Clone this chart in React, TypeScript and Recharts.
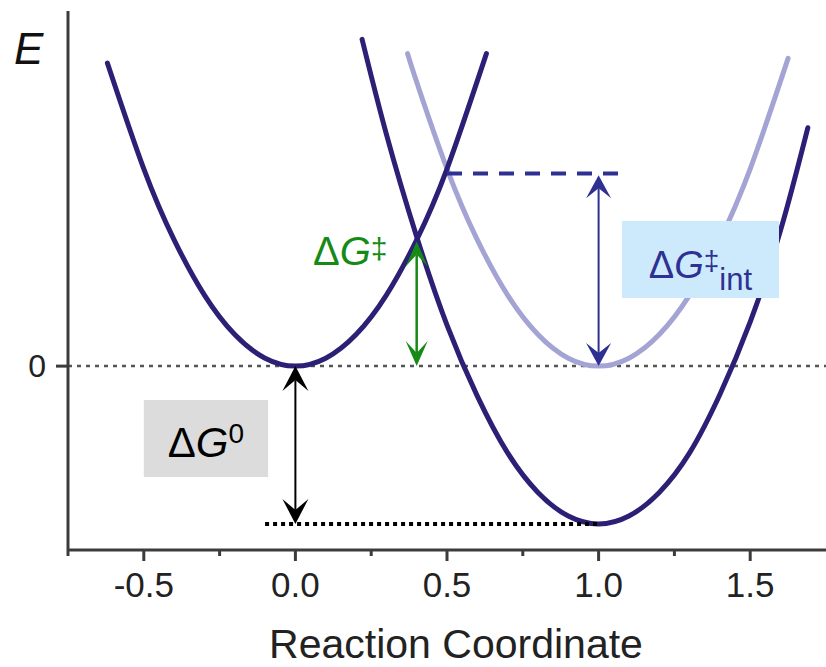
import React from "react";
import { ComposedChart, Line, XAxis, YAxis, ReferenceLine, ReferenceArea } from "recharts";

const FONT = '"Liberation Sans", Arial, sans-serif';
const AXIS = "#3c3c3c";
const DARK = "#2b2075";
const LIGHT = "#a4a4d4";
const BLUE = "#2e3192";
const GREEN = "#168a16";

// axis ticks
const xTicks = [-0.5, 0, 0.5, 1, 1.5];
const minorTicks = [-0.75, -0.25, 0.25, 0.75, 1.25];
const yTicks = [0];

// reactant curve (left, dark)
const reactantX = [-0.62, -0.5, -0.4, -0.3, -0.2, -0.1, 0, 0.1, 0.2, 0.3, 0.4, 0.5, 0.63];
const reactantE = [1.92, 1.25, 0.8, 0.45, 0.2, 0.05, 0, 0.05, 0.2, 0.45, 0.8, 1.25, 1.98];

// product curve (right, dark)
const productX = [0.22, 0.3, 0.4, 0.5, 0.6, 0.7, 0.8, 0.9, 1.0, 1.1, 1.2, 1.3, 1.4, 1.5, 1.6, 1.69];
const productE = [2.07, 1.47, 0.82, 0.26, -0.19, -0.55, -0.8, -0.95, -1, -0.95, -0.8, -0.55, -0.18, 0.28, 0.86, 1.51];

// intrinsic curve (product shifted up to 0, light)
const intrinsicX = [0.37, 0.4, 0.5, 0.6, 0.7, 0.8, 0.9, 1.0, 1.1, 1.2, 1.3, 1.4, 1.5, 1.625];
const intrinsicE = [1.98, 1.8, 1.25, 0.8, 0.45, 0.2, 0.05, 0, 0.05, 0.2, 0.45, 0.8, 1.25, 1.95];

// annotation values
const dG0 = -1;
const actX = 0.4;
const dGact = 0.79;
const crossX = 0.5;
const dGint = 1.22;
const intDashEnd = 1.1;
const baseDotStart = -0.1;

const rows = (xs: number[], es: number[]) => xs.map((x, i) => ({ x, e: es[i] }));

function arrow(color: string, width: number, len: number, hw: number, notch: number) {
  return (p: any) => {
    const x = p.x1;
    const top = Math.min(p.y1, p.y2);
    const bot = Math.max(p.y1, p.y2);
    return (
      <g>
        <line x1={x} x2={x} y1={top + notch} y2={bot - notch} stroke={color} strokeWidth={width} />
        <polygon
          points={`${x},${top} ${x + hw},${top + len} ${x},${top + notch} ${x - hw},${top + len}`}
          fill={color}
        />
        <polygon
          points={`${x},${bot} ${x + hw},${bot - len} ${x},${bot - notch} ${x - hw},${bot - len}`}
          fill={color}
        />
      </g>
    );
  };
}

function XTick(props: any) {
  const { x, y, payload } = props;
  const major = xTicks.includes(payload.value);
  return (
    <g>
      <line x1={x} x2={x} y1={y} y2={y + (major ? 11 : 6)} stroke={AXIS} strokeWidth={3} />
      {major && (
        <text x={x} y={y + 47} textAnchor="middle" fontSize={35} fill="#222" fontFamily={FONT}>
          {payload.value.toFixed(1)}
        </text>
      )}
    </g>
  );
}

export default function App() {
  return (
    <div style={{ position: "absolute", left: 0, top: 0, background: "#fff" }}>
      <ComposedChart width={826} height={667} margin={{ top: 11, right: 0, bottom: 0, left: 0 }}>
        <XAxis
          dataKey="x"
          type="number"
          domain={[-0.75, 1.75]}
          allowDataOverflow
          ticks={[...minorTicks, ...xTicks].sort((a, b) => a - b)}
          interval={0}
          height={117}
          axisLine={{ stroke: AXIS, strokeWidth: 3 }}
          tickLine={false}
          tickSize={0}
          tickMargin={0}
          tick={<XTick />}
          label={(p: any) => (
            <text
              x={p.viewBox.x + p.viewBox.width / 2 + 9}
              y={p.viewBox.y + 108}
              textAnchor="middle"
              fontSize={41}
              fill="#222"
              fontFamily={FONT}
            >
              Reaction Coordinate
            </text>
          )}
        />
        <YAxis
          type="number"
          domain={[-1.165, 2.25]}
          allowDataOverflow
          ticks={yTicks}
          width={68}
          axisLine={{ stroke: AXIS, strokeWidth: 3 }}
          tickLine={{ stroke: AXIS, strokeWidth: 3 }}
          tickSize={12}
          tickMargin={10}
          tick={{ fontSize: 32, fill: "#222", fontFamily: FONT }}
          label={(p: any) => (
            <text x={14} y={p.viewBox.y + 53} fontSize={44} fontStyle="italic" fill="#111" fontFamily={FONT}>
              E
            </text>
          )}
        />

        <ReferenceLine y={0} stroke="#555" strokeWidth={2.5} strokeDasharray="4 5" />

        <Line
          data={rows(intrinsicX, intrinsicE)}
          dataKey="e"
          type="natural"
          dot={false}
          stroke={LIGHT}
          strokeWidth={5}
          strokeLinecap="round"
          isAnimationActive={false}
        />
        <Line
          data={rows(reactantX, reactantE)}
          dataKey="e"
          type="natural"
          dot={false}
          stroke={DARK}
          strokeWidth={5}
          strokeLinecap="round"
          isAnimationActive={false}
        />
        <Line
          data={rows(productX, productE)}
          dataKey="e"
          type="natural"
          dot={false}
          stroke={DARK}
          strokeWidth={5}
          strokeLinecap="round"
          isAnimationActive={false}
        />

        <ReferenceLine
          segment={[{ x: baseDotStart, y: dG0 }, { x: 1, y: dG0 }]}
          stroke="#000"
          strokeWidth={4}
          strokeDasharray="4 4"
        />
        <ReferenceLine
          segment={[{ x: crossX, y: dGint }, { x: intDashEnd, y: dGint }]}
          stroke={BLUE}
          strokeWidth={4}
          strokeDasharray="15 11"
        />

        <ReferenceLine
          segment={[{ x: 0, y: 0 }, { x: 0, y: dG0 }]}
          shape={arrow("#000", 2, 25, 13, 14)}
        />
        <ReferenceLine
          segment={[{ x: actX, y: 0 }, { x: actX, y: dGact }]}
          shape={arrow(GREEN, 2.5, 25, 11, 13)}
        />
        <ReferenceLine
          segment={[{ x: 1, y: 0 }, { x: 1, y: dGint - 0.01 }]}
          shape={arrow(BLUE, 2, 23, 12.5, 13)}
        />

        <ReferenceArea
          x1={-0.5}
          x2={-0.09}
          y1={-0.215}
          y2={-0.703}
          fill="#dcdcdc"
          fillOpacity={1}
          stroke="none"
          zIndex={700}
          label={(p: any) => (
            <text
              x={p.viewBox.x + p.viewBox.width / 2}
              y={p.viewBox.y + 57}
              textAnchor="middle"
              fontSize={42}
              fill="#000"
              fontFamily={FONT}
            >
              <tspan>Δ</tspan>
              <tspan fontStyle="italic">G</tspan>
              <tspan fontSize={28} dy={-14}>0</tspan>
            </text>
          )}
        />
        <ReferenceArea
          x1={1.077}
          x2={1.595}
          y1={0.919}
          y2={0.431}
          fill="#cdeafc"
          fillOpacity={1}
          stroke="none"
          zIndex={700}
          label={(p: any) => (
            <text
              x={p.viewBox.x + p.viewBox.width / 2}
              y={p.viewBox.y + 57}
              textAnchor="middle"
              fontSize={38}
              fill={BLUE}
              fontFamily={FONT}
            >
              <tspan>Δ</tspan>
              <tspan fontStyle="italic">G</tspan>
              <tspan fontSize={28} dy={-8}>‡</tspan>
              <tspan fontSize={31} dy={20}>int</tspan>
            </text>
          )}
        />
        <ReferenceArea
          x1={0.032}
          x2={0.33}
          y1={0.64}
          y2={0.84}
          fill="none"
          stroke="none"
          zIndex={700}
          label={(p: any) => (
            <text
              x={p.viewBox.x + p.viewBox.width / 2}
              y={p.viewBox.y + p.viewBox.height}
              textAnchor="middle"
              fontSize={40}
              fill={GREEN}
              fontFamily={FONT}
            >
              <tspan>Δ</tspan>
              <tspan fontStyle="italic">G</tspan>
              <tspan fontSize={30} dy={-6}>‡</tspan>
            </text>
          )}
        />
      </ComposedChart>
    </div>
  );
}
